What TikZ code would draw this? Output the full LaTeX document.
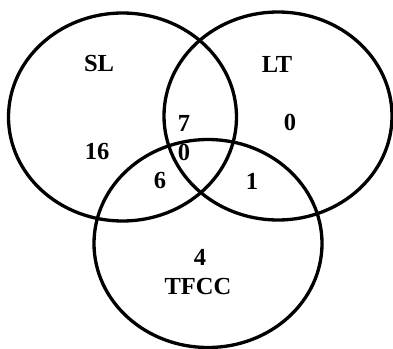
\documentclass[tikz,border=0pt]{standalone}
\usepackage{fontspec}
\setmainfont{Liberation Serif}
\usetikzlibrary{shapes.geometric}

\begin{document}
\begin{tikzpicture}[x=1pt, y=-1pt, line width=3.3pt,
  set/.style={ellipse, draw, inner sep=0pt, minimum width=228pt, minimum height=208pt},
  num/.style={font=\fontsize{24.5}{26}\selectfont\bfseries}]
  \useasboundingbox (0,0) rectangle (393,348);
  \node[set] (SL) at (122.5,117) {};
  \node[set] (LT) at (278,116) {};
  \node[set] (TFCC) at (208,243.5) {};

  \node[num] (sl) at (99,64) {SL};
  \node[num] (lt) at (277,64) {LT};
  \node[num] (tfcc) at (198,287) {TFCC};

  \node[num] (n16) at (97,152) {16};
  \node[num] (n7) at (184,123) {7};
  \node[num] (n0a) at (290,122) {0};
  \node[num] (n0b) at (184,152) {0};
  \node[num] (n6) at (160,181) {6};
  \node[num] (n1) at (252,181) {1};
  \node[num] (n4) at (200,257) {4};
\end{tikzpicture}
\end{document}
